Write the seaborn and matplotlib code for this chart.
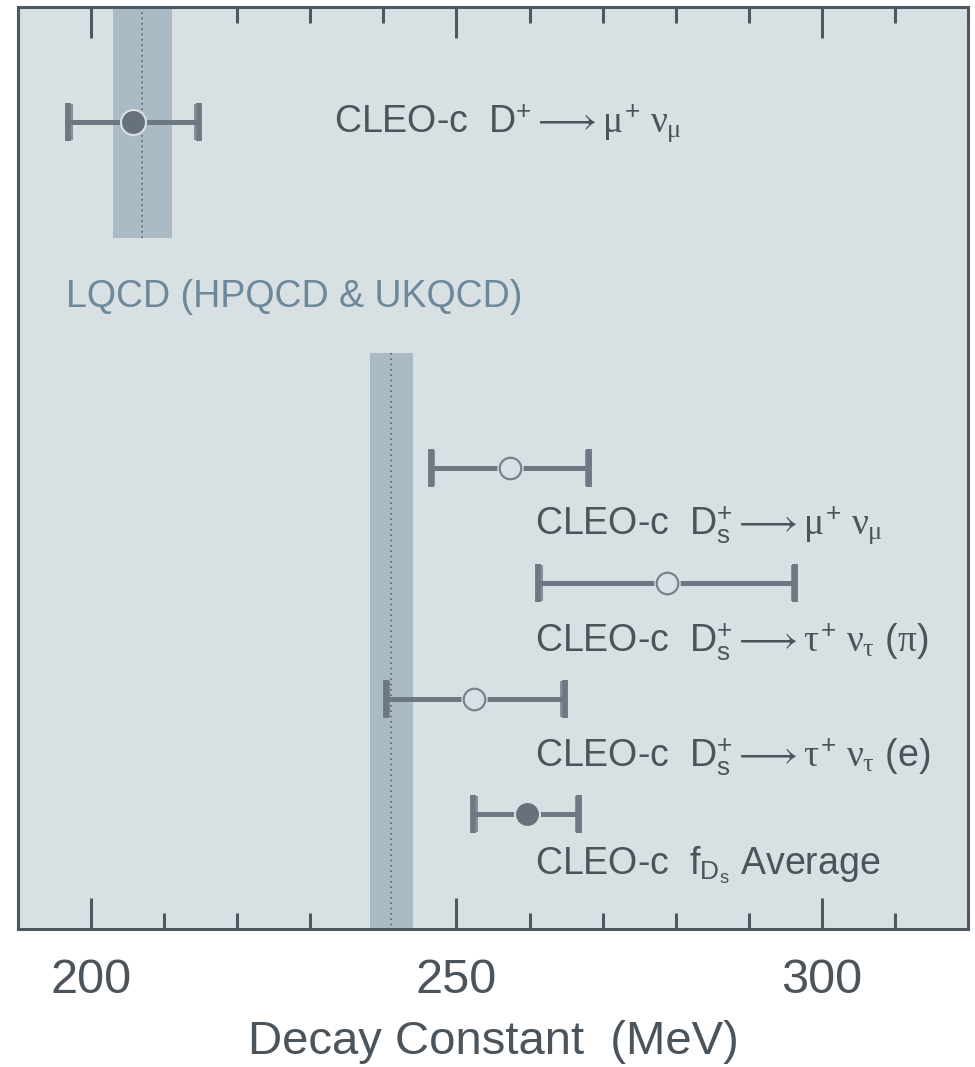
import matplotlib
matplotlib.use("Agg")
import matplotlib.pyplot as plt
import seaborn as sns
import pandas as pd

# ---- data ----
labels = [
    r"CLEO-c  $\mathrm{D}^{+} \longrightarrow \mu^{+}\ \nu_{\mu}$",
    r"CLEO-c  $\mathrm{D}^{+}_{\mathrm{s}} \longrightarrow \mu^{+}\ \nu_{\mu}$",
    r"CLEO-c  $\mathrm{D}^{+}_{\mathrm{s}} \longrightarrow \tau^{+}\ \nu_{\tau}$ ($\pi$)",
    r"CLEO-c  $\mathrm{D}^{+}_{\mathrm{s}} \longrightarrow \tau^{+}\ \nu_{\tau}$ (e)",
    r"CLEO-c  $\mathrm{f}_{\mathrm{D}_{\mathrm{s}}}$ Average",
]
values = [205.8, 257.3, 278.8, 252.4, 259.6]
err_lo = [196.9, 246.5, 261.2, 240.3, 252.3]
err_hi = [214.7, 268.2, 296.3, 264.8, 266.8]
rows = [1, 4, 5, 6, 7]
filled = [True, False, False, False, True]
label_x = [233.2, 260.7, 260.7, 260.7, 260.7]
label_row = [1.08, 4.567, 5.588, 6.583, 7.526]

lqcd_center = [207.0, 241.1]
lqcd_half = [4.05, 3.0]
lqcd_rows = [(0.0, 2.0), (3.0, 8.0)]
lqcd_label = "LQCD (HPQCD & UKQCD)"

major_ticks = [200, 250, 300]
minor_ticks = [190, 210, 220, 230, 240, 260, 270, 280, 290, 310, 320]
xlabel = "Decay Constant  (MeV)"

# ---- style ----
BG = "#d9e0e3"
BAND = "#aabbc6"
FRAME = "#4f5861"
TEXT = "#4b535b"
LQCD_TEXT = "#6c889b"
ERR = "#6d7882"
MFILL = "#66717b"
MEDGE = "#76838e"
CAP_INSET = 0.45

sns.set_style("ticks")
plt.rcParams["font.family"] = ["Liberation Sans", "DejaVu Sans"]
plt.rcParams["mathtext.fontset"] = "custom"
plt.rcParams["mathtext.rm"] = "Liberation Sans"
plt.rcParams["mathtext.it"] = "Liberation Serif"
plt.rcParams["mathtext.bf"] = "Liberation Sans:bold"

df = pd.DataFrame({"value": values, "row": rows, "filled": filled,
                   "lo": err_lo, "hi": err_hi})

fig = plt.figure(figsize=(9.75, 10.67), dpi=100, facecolor="white")
ax = fig.add_axes([18 / 975, 1 - 929 / 1067, 950 / 975, 922 / 1067])
ax.set_facecolor(BG)

# LQCD bands
for c, h, (r0, r1) in zip(lqcd_center, lqcd_half, lqcd_rows):
    ax.fill_betweenx([r0, r1], c - h, c + h, color=BAND, lw=0, zorder=1)
    ax.plot([c, c], [r0, r1], ls=(0, (1, 2.2)), color="#5d6770", lw=1.2, zorder=2)

# error bars (thick cap + thin inner cap line)
ax.errorbar(df["value"], df["row"],
            xerr=[df["value"] - df["lo"], df["hi"] - df["value"]],
            fmt="none", ecolor=ERR, elinewidth=3.6, capsize=14, capthick=4.2,
            zorder=3)
ax.errorbar(df["value"], df["row"],
            xerr=[df["value"] - df["lo"] - CAP_INSET,
                  df["hi"] - df["value"] - CAP_INSET],
            fmt="none", ecolor=ERR, elinewidth=0, capsize=13, capthick=1.1,
            zorder=3)

# markers
fd = df[df["filled"]]
od = df[~df["filled"]]
sns.scatterplot(data=fd, x="value", y="row", ax=ax, s=18**2, color=MFILL,
                edgecolor=BG, linewidth=1.5, zorder=5, legend=False)
sns.scatterplot(data=od, x="value", y="row", ax=ax, s=19**2, color=BG,
                edgecolor=BG, linewidth=0, zorder=4, legend=False)
sns.scatterplot(data=od, x="value", y="row", ax=ax, s=15.5**2, color=BG,
                edgecolor=MEDGE, linewidth=1.6, zorder=5, legend=False)

# labels
for lab, lx, ly in zip(labels, label_x, label_row):
    ax.text(lx, ly, lab, fontsize=27, color=TEXT, va="baseline", ha="left",
            zorder=6)
ax.text(196.5, 2.606, lqcd_label, fontsize=27, color=LQCD_TEXT,
        va="baseline", ha="left", zorder=6)

# axes
ax.set_xlim(190, 320)
ax.set_ylim(8, 0)
ax.set_yticks([])
ax.set_ylabel("")
ax.set_xticks(major_ticks)
ax.set_xticks(minor_ticks, minor=True)
ax.tick_params(axis="x", which="both", direction="in", top=True, bottom=True,
               color=FRAME, width=2.2, labelcolor=TEXT, labelsize=35)
ax.tick_params(axis="x", which="major", length=22, pad=21)
ax.tick_params(axis="x", which="minor", length=11.5)
ax.set_xlabel(xlabel, fontsize=34, color=TEXT, labelpad=12)
for sp in ax.spines.values():
    sp.set_visible(True)
    sp.set_color(FRAME)
    sp.set_linewidth(2.2)

fig.savefig("out.png", dpi=100, facecolor="white")
